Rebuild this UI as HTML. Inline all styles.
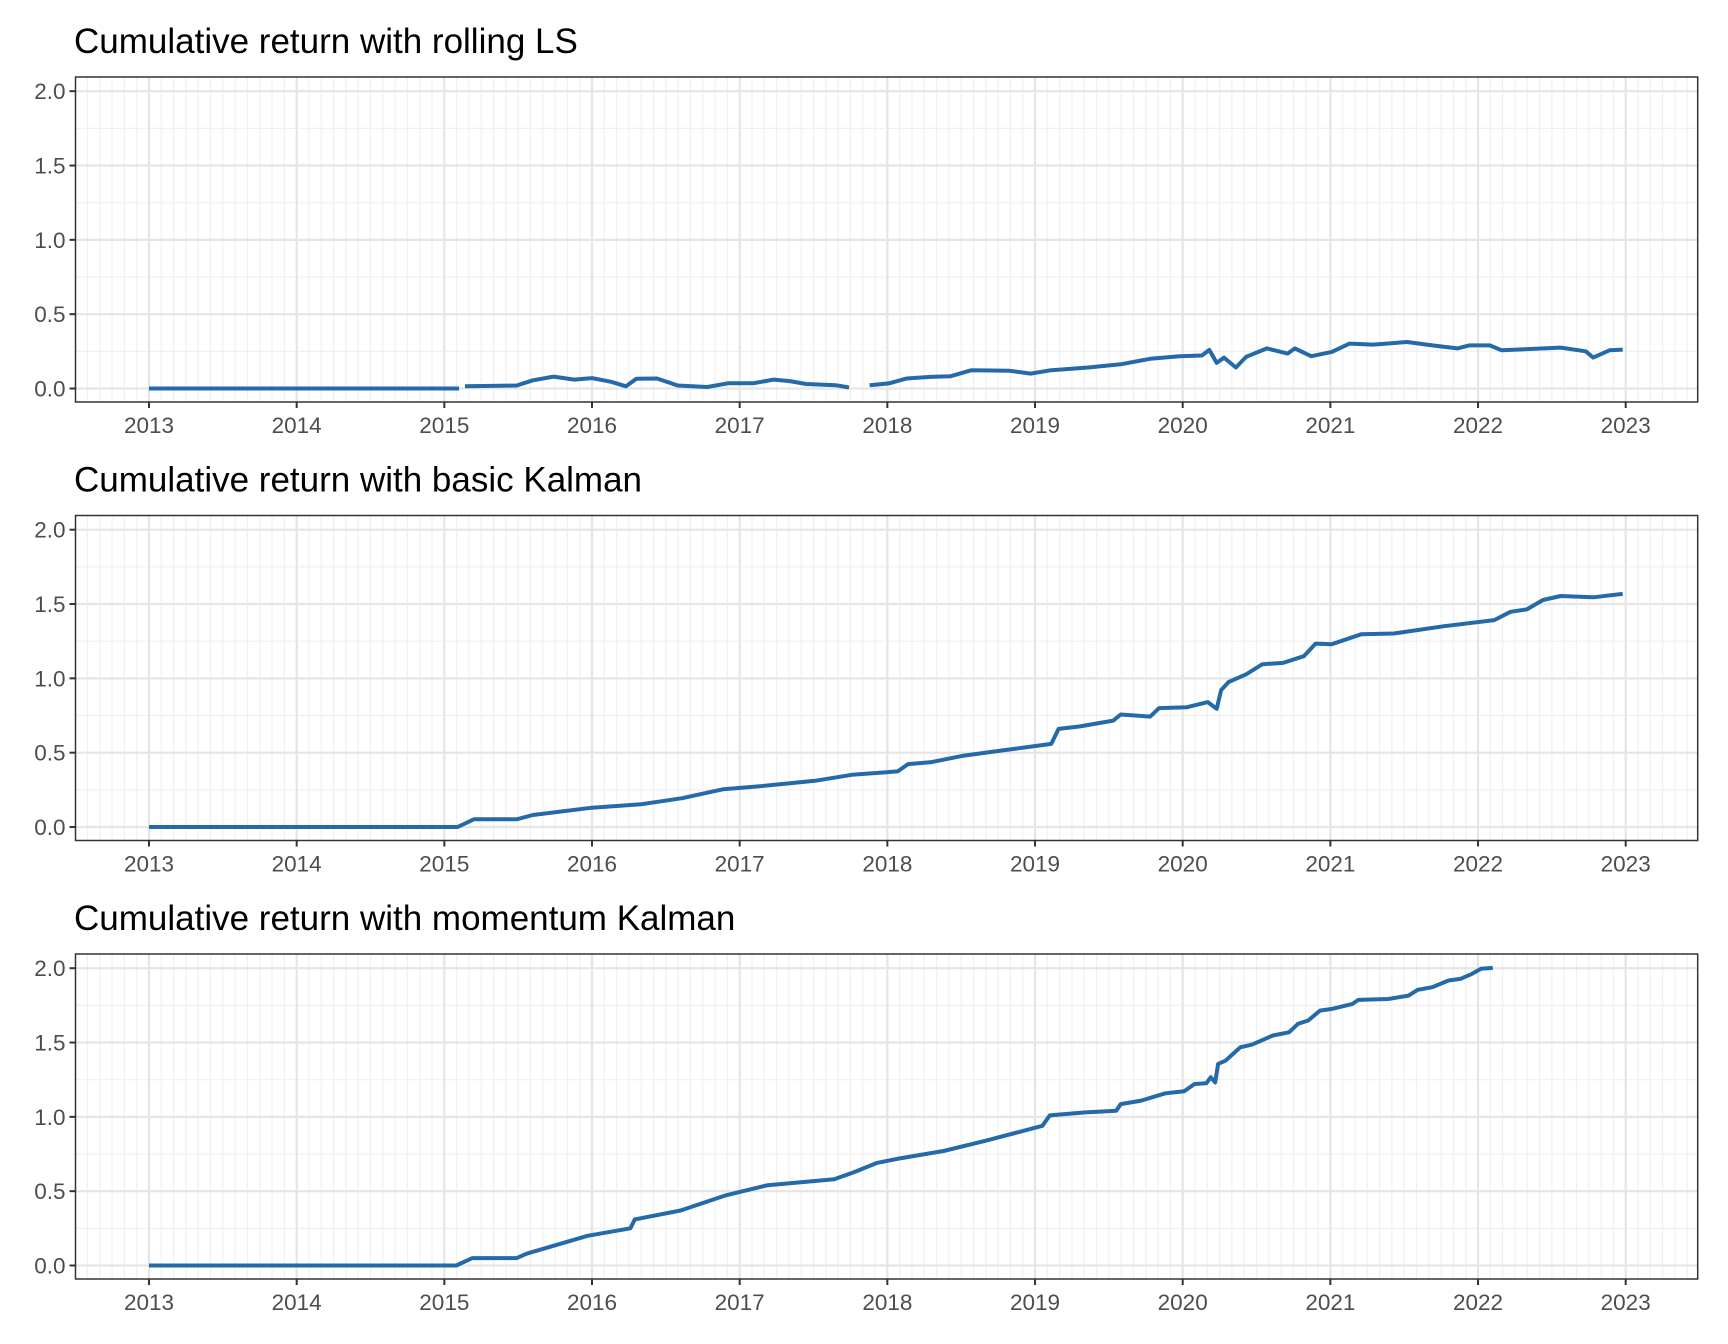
<!DOCTYPE html>
<html><head><meta charset="utf-8"><style>
html,body{margin:0;padding:0;background:#fff;}
svg{display:block;font-family:"Liberation Sans",Arial,sans-serif;}
</style></head><body>
<svg id="chart" width="1728" height="1344" viewBox="0 0 1728 1344" xmlns="http://www.w3.org/2000/svg"></svg>
<script>
const panelTitles = ["Cumulative return with rolling LS","Cumulative return with basic Kalman","Cumulative return with momentum Kalman"];
const xTickLabels = ["2013","2014","2015","2016","2017","2018","2019","2020","2021","2022","2023"];
const yTickLabels = ["0.0","0.5","1.0","1.5","2.0"];
// series: [decimal year, value]; null = gap
const rollingYears = [2013.0,2015.10,null,2015.14,2015.49,2015.6,2015.74,2015.88,2016.0,2016.13,2016.23,2016.3,2016.44,2016.58,2016.78,2016.92,2017.09,2017.23,2017.34,2017.45,2017.65,2017.74,null,2017.88,2018.01,2018.13,2018.29,2018.43,2018.57,2018.83,2018.97,2019.11,2019.36,2019.58,2019.78,2019.98,2020.13,2020.18,2020.23,2020.28,2020.36,2020.43,2020.57,2020.71,2020.76,2020.87,2021.01,2021.13,2021.29,2021.52,2021.69,2021.86,2021.94,2022.08,2022.16,2022.56,2022.73,2022.78,2022.89,2022.98];
const rollingValues = [0,0,null,0.015,0.02,0.055,0.08,0.06,0.07,0.045,0.015,0.065,0.067,0.02,0.01,0.035,0.035,0.06,0.05,0.03,0.022,0.007,null,0.022,0.034,0.067,0.078,0.083,0.123,0.119,0.1,0.123,0.141,0.163,0.2,0.217,0.222,0.26,0.172,0.208,0.141,0.213,0.27,0.235,0.27,0.217,0.246,0.302,0.295,0.313,0.29,0.27,0.29,0.29,0.257,0.275,0.25,0.208,0.257,0.262];
const basicYears = [2013.0,2015.09,2015.2,2015.49,2015.6,2016.0,2016.33,2016.61,2016.89,2017.17,2017.51,2017.76,2018.07,2018.14,2018.29,2018.52,2018.8,2019.11,2019.16,2019.3,2019.53,2019.58,2019.78,2019.84,2020.03,2020.17,2020.23,2020.26,2020.31,2020.43,2020.54,2020.68,2020.82,2020.9,2021.01,2021.21,2021.43,2021.77,2022.11,2022.22,2022.33,2022.44,2022.56,2022.78,2022.98];
const basicValues = [0,0,0.052,0.052,0.081,0.13,0.153,0.194,0.254,0.277,0.311,0.351,0.374,0.423,0.435,0.48,0.518,0.559,0.66,0.676,0.716,0.757,0.743,0.8,0.806,0.84,0.795,0.92,0.975,1.027,1.095,1.104,1.149,1.234,1.23,1.297,1.302,1.351,1.392,1.448,1.464,1.527,1.554,1.545,1.568];
const momentumYears = [2013.0,2015.08,2015.19,2015.49,2015.56,2015.97,2016.26,2016.29,2016.6,2016.9,2017.19,2017.64,2017.78,2017.93,2018.08,2018.38,2018.67,2019.05,2019.1,2019.34,2019.55,2019.58,2019.72,2019.88,2020.01,2020.08,2020.16,2020.19,2020.22,2020.24,2020.29,2020.34,2020.39,2020.47,2020.61,2020.72,2020.78,2020.85,2020.93,2021.01,2021.15,2021.19,2021.39,2021.53,2021.59,2021.69,2021.8,2021.88,2021.96,2022.02,2022.1];
const momentumValues = [0,0,0.05,0.05,0.08,0.2,0.25,0.31,0.37,0.47,0.54,0.58,0.63,0.69,0.72,0.77,0.84,0.94,1.01,1.03,1.041,1.086,1.109,1.158,1.172,1.221,1.226,1.266,1.232,1.356,1.378,1.423,1.468,1.486,1.547,1.569,1.625,1.648,1.715,1.726,1.76,1.787,1.793,1.816,1.854,1.872,1.917,1.928,1.962,1.996,2.002];

const NS="http://www.w3.org/2000/svg";
const svg=document.getElementById('chart');
const L=75.5,R=1697.7;
const panelTops=[77,515.5,954];
function xs(yr){return 149+(yr-2013)*147.67;}
function mk(tag,attrs,parent){const e=document.createElementNS(NS,tag);for(const k in attrs)e.setAttribute(k,attrs[k]);(parent||svg).appendChild(e);return e;}
const seriesY=[rollingYears,basicYears,momentumYears];
const seriesV=[rollingValues,basicValues,momentumValues];
const slug=["rolling-ls","basic-kalman","momentum-kalman"];
for(let p=0;p<3;p++){
  const top=panelTops[p],bot=top+325;
  const ys=v=>top+311.5-v*148.65;
  const g=mk('g',{});
  
  
  const t=mk('text',{x:74,y:top-24,'font-size':35,fill:'#000'},g);
  t.textContent=panelTitles[p];
  
  
  for(let m=0;m<=132;m++){const yr=2012.5+m/12;const x=xs(yr);if(x<L||x>R)continue;
    const isMajor=Math.abs(yr-Math.round(yr))<1e-6;
    if(isMajor)continue;
    const ln=mk('line',{x1:x,x2:x,y1:top,y2:bot,stroke:'#f0f0f0','stroke-width':1.2},g);
    
    }
  for(let k=0;k<4;k++){const y=ys(0.25+k*0.5);
    const ln=mk('line',{x1:L,x2:R,y1:y,y2:y,stroke:'#f0f0f0','stroke-width':1.2},g);
    
    }
  xTickLabels.forEach((lab)=>{const x=xs(+lab);
    const ln=mk('line',{x1:x,x2:x,y1:top,y2:bot,stroke:'#e5e5e5','stroke-width':2.2},g);
    
    
    mk('line',{x1:x,x2:x,y1:bot,y2:bot+6,stroke:'#333','stroke-width':2},g);
    const tx=mk('text',{x:x,y:bot+31,'font-size':22.5,fill:'#4d4d4d','text-anchor':'middle'},g);
    tx.textContent=lab;
    
    });
  yTickLabels.forEach(lab=>{const y=ys(+lab);
    const ln=mk('line',{x1:L,x2:R,y1:y,y2:y,stroke:'#e5e5e5','stroke-width':2.2},g);
    
    
    mk('line',{x1:L-6,x2:L,y1:y,y2:y,stroke:'#333','stroke-width':2},g);
    const tx=mk('text',{x:L-10,y:y+8,'font-size':22.5,fill:'#4d4d4d','text-anchor':'end'},g);
    tx.textContent=lab;
    
    });
  const yrs=seriesY[p],vals=seriesV[p];let d='',pen=false;
  for(let i=0;i<yrs.length;i++){if(yrs[i]===null){pen=false;continue;}
    d+=(pen?'L':'M')+xs(yrs[i]).toFixed(1)+' '+ys(vals[i]).toFixed(1);pen=true;}
  const path=mk('path',{d:d,fill:'none',stroke:'#2469a8','stroke-width':4,'stroke-linejoin':'round'},g);
  
  
  const fr=mk('rect',{x:L,y:top,width:R-L,height:bot-top,fill:'none',stroke:'#333','stroke-width':1.5},g);
  
  
}
</script>
</body></html>
